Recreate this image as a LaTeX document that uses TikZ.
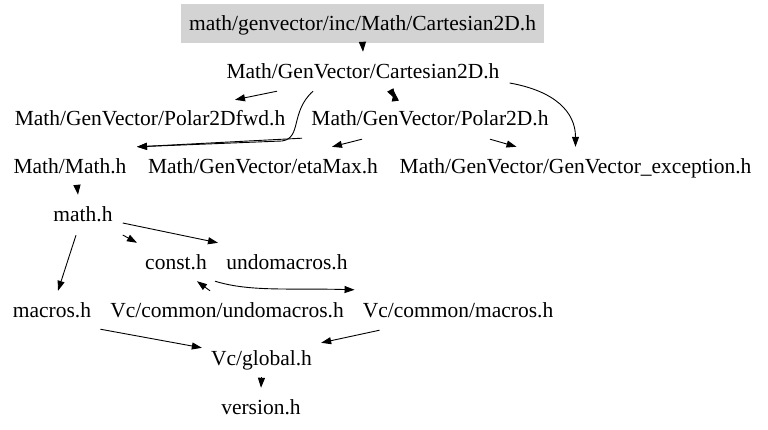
\documentclass[tikz,border=0pt]{standalone}
\usepackage{fontspec}
\setmainfont{Liberation Serif}
\usetikzlibrary{arrows.meta,calc}
\definecolor{rootgray}{RGB}{211,211,211}
\tikzset{
  file/.style={inner sep=0pt, minimum height=38pt, text height=17.2pt, text depth=3pt,
    font=\fontsize{21.5}{24}\selectfont},
  rootfile/.style={file, fill=rootgray, minimum width=363pt, minimum height=39pt},
  arr/.style={draw=black, line width=0.9pt, -{Triangle[length=10pt,width=7pt]}}
}
\begin{document}
\begin{tikzpicture}[x=1pt,y=-1pt]
\useasboundingbox (0,0) rectangle (768,430);
\node[rootfile] (top) at (362.5,23.5) {math/genvector/inc/Math/Cartesian2D.h};
\node[file] (cart) at (363,71) {Math/GenVector/Cartesian2D.h};
\node[file] (pfwd) at (150,118) {Math/GenVector/Polar2Dfwd.h};
\node[file] (polar) at (430,118) {Math/GenVector/Polar2D.h};
\node[file] (mathm) at (70,166) {Math/Math.h};
\node[file] (eta) at (263,166) {Math/GenVector/etaMax.h};
\node[file] (exc) at (575.5,166) {Math/GenVector/GenVector\_exception.h};
\node[file] (mathh) at (83,214) {math.h};
\node[file] (const) at (176,262) {const.h};
\node[file] (undo) at (287,262) {undomacros.h};
\node[file] (macros) at (52,310) {macros.h};
\node[file] (vcundo) at (227,310) {Vc/common/undomacros.h};
\node[file] (vcmac) at (458,310) {Vc/common/macros.h};
\node[file] (glob) at (261.5,358) {Vc/global.h};
\node[file] (ver) at (261,407) {version.h};

\draw[arr] (top.south) -- (cart.north);
\draw[arr] ([shift={(-86,1)}]cart.south) -- ([shift={(85,1)}]pfwd.north);
\draw[arr] ([shift={(-50,1)}]cart.south) .. controls (290,112) and (302,138) .. (282,141) -- ([shift={(67,0)}]mathm.north);
\draw[arr] ([shift={(-128,1)}]polar.south) -- ([shift={(67,0)}]mathm.north);
\draw[arr] ([shift={(28,1)}]cart.south) -- ([shift={(-35,0)}]polar.north);
\draw[arr] ([shift={(-35,0)}]polar.north) -- ([shift={(31,1)}]cart.south);
\draw[arr] ([shift={(10,12)}]cart.east) .. controls +(45,8) and +(0,-35) .. (exc.north);
\draw[arr] ([shift={(-68,2)}]polar.south) -- ([shift={(69,0)}]eta.north);
\draw[arr] ([shift={(60,2)}]polar.south) -- ([shift={(-59,0)}]exc.north);
\draw[arr] ([shift={(7,0)}]mathm.south) -- ([shift={(-5,0)}]mathh.north);
\draw[arr] ([shift={(-7,2)}]mathh.south) -- ([shift={(6,0)}]macros.north);
\draw[arr] ([shift={(10,21)}]mathh.east) -- ([shift={(-39,0)}]const.north);
\draw[arr] ([shift={(10,9)}]mathh.east) -- ([shift={(-69,0)}]undo.north);
\draw[arr] ([shift={(-17,0)}]vcundo.north) -- ([shift={(21,0)}]const.south);
\draw[arr] ([shift={(39,0)}]const.south) .. controls (250,292) and (290,288) .. ([shift={(-8,-1)}]vcmac.north west);
\draw[arr] ([shift={(9,0)}]macros.south east) -- ([shift={(-9,9)}]glob.north west);
\draw[arr] ([shift={(17,1)}]vcmac.south west) -- ([shift={(9,4)}]glob.north east);
\draw[arr] (glob.south) -- (ver.north);
\end{tikzpicture}
\end{document}
